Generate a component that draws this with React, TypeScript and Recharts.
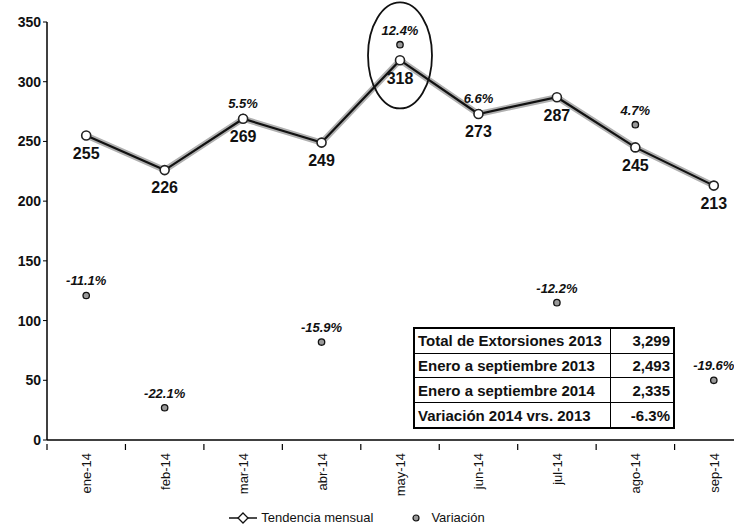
import { ComposedChart, Line, XAxis, YAxis, LabelList, ReferenceDot } from 'recharts';

const months = ['ene-14', 'feb-14', 'mar-14', 'abr-14', 'may-14', 'jun-14', 'jul-14', 'ago-14', 'sep-14'];
const tendencia = [255, 226, 269, 249, 318, 273, 287, 245, 213];
const variacionPos = [121, 27, 270, 82, 331, 274, 115, 264, 50];
const variacionLabel = ['-11.1%', '-22.1%', '5.5%', '-15.9%', '12.4%', '6.6%', '-12.2%', '4.7%', '-19.6%'];
const yTicks = [0, 50, 100, 150, 200, 250, 300, 350];

const tableRows = [
  ['Total de Extorsiones 2013', '3,299'],
  ['Enero a septiembre 2013', '2,493'],
  ['Enero a septiembre 2014', '2,335'],
  ['Variación 2014 vrs. 2013', '-6.3%'],
];

const data = months.map((m, i) => ({
  mes: m,
  tendencia: tendencia[i],
  variacion: variacionPos[i],
  varLabel: variacionLabel[i],
}));

const FONT = '"Liberation Sans Narrow", "Liberation Sans", Arial, sans-serif';
const HALF_BAND = 39.2;

function MonthTick(props: any) {
  const { x, y, payload } = props;
  const axisY = y - 4;
  return (
    <g>
      <line x1={x - HALF_BAND} y1={axisY} x2={x - HALF_BAND} y2={axisY + 6} stroke="#000" strokeWidth={1.2} />
      <text
        x={0}
        y={0}
        transform={`translate(${x + 5},${axisY + 9}) rotate(-90)`}
        textAnchor="end"
        fontSize={13}
        fontFamily={FONT}
        fill="#111"
      >
        {payload.value}
      </text>
    </g>
  );
}

function VarDot(props: any) {
  const { cx, cy } = props;
  if (cx == null || cy == null) return null;
  return <circle cx={cx} cy={cy} r={3.2} fill="#9a9a9a" stroke="#111" strokeWidth={1.3} />;
}

function TrendDot(props: any) {
  const { cx, cy } = props;
  if (cx == null || cy == null) return null;
  return <circle cx={cx} cy={cy} r={4.5} fill="#fff" stroke="#222" strokeWidth={1.6} />;
}

function Ellipse(props: any) {
  const { cx, cy } = props;
  return <ellipse cx={cx} cy={cy} rx={32} ry={53} fill="none" stroke="#111" strokeWidth={1.8} />;
}

export default function App() {
  return (
    <div style={{ position: 'fixed', left: 0, top: 0, width: 734, height: 529, overflow: 'hidden', background: '#fff' }}>
      <ComposedChart width={760} height={529} data={data} margin={{ top: 22, right: 7, left: 0, bottom: 0 }}>
        <XAxis
          dataKey="mes"
          interval={0}
          height={89}
          padding={{ left: HALF_BAND, right: HALF_BAND }}
          tickLine={false}
          axisLine={{ stroke: '#000', strokeWidth: 1.3 }}
          tick={<MonthTick />}
        />
        <YAxis
          width={47}
          domain={[0, 350]}
          ticks={yTicks}
          tickSize={4}
          axisLine={{ stroke: '#000', strokeWidth: 1.5 }}
          tickLine={{ stroke: '#000' }}
          tick={{ fontSize: 14, fontWeight: 700, fill: '#111', fontFamily: FONT }}
        />
        <ReferenceDot x="may-14" y={322} shape={<Ellipse />} ifOverflow="visible" />
        {/* variación first so the trend markers sit on top where they overlap */}
        <Line
          dataKey="variacion"
          stroke="none"
          dot={<VarDot />}
          activeDot={false}
          isAnimationActive={false}
        >
          <LabelList
            dataKey="varLabel"
            position="top"
            offset={10}
            fontSize={13}
            fontWeight={700}
            fontStyle="italic"
            fill="#111"
            fontFamily={FONT}
          />
        </Line>
        <Line
          dataKey="tendencia"
          stroke="#b0b0b0"
          strokeWidth={6}
          dot={false}
          activeDot={false}
          isAnimationActive={false}
          legendType="none"
        />
        <Line
          dataKey="tendencia"
          stroke="#111"
          strokeWidth={2.2}
          dot={<TrendDot />}
          activeDot={false}
          isAnimationActive={false}
        >
          <LabelList
            dataKey="tendencia"
            position="bottom"
            offset={12}
            fontSize={16}
            fontWeight={700}
            fill="#111"
            fontFamily={FONT}
          />
        </Line>
      </ComposedChart>

      <table
        style={{
          position: 'absolute',
          left: 413,
          top: 327,
          width: 262,
          height: 102,
          borderCollapse: 'collapse',
          border: '2px solid #000',
          background: '#fff',
          fontFamily: FONT,
          fontWeight: 700,
          fontSize: 15,
          color: '#111',
        }}
      >
        <tbody>
          {tableRows.map((r) => (
            <tr key={r[0]}>
              <td style={{ border: '1px solid #000', padding: '0 3px', width: 189, whiteSpace: 'nowrap' }}>{r[0]}</td>
              <td style={{ border: '1px solid #000', padding: '0 3px', textAlign: 'right' }}>{r[1]}</td>
            </tr>
          ))}
        </tbody>
      </table>

      <div
        style={{
          position: 'absolute',
          left: 10,
          top: 510,
          width: 734,
          display: 'flex',
          justifyContent: 'center',
          alignItems: 'center',
          fontFamily: FONT,
          fontSize: 13,
          color: '#111',
        }}
      >
        <div style={{ display: 'flex', alignItems: 'center', marginLeft: -40 }}>
          <svg width={28} height={14}>
            <line x1={0} y1={7} x2={28} y2={7} stroke="#111" strokeWidth={1.5} />
            <path d="M14 2 L19 7 L14 12 L9 7 Z" fill="#fff" stroke="#111" strokeWidth={1.3} />
          </svg>
          <span style={{ marginLeft: 4 }}>Tendencia mensual</span>
        </div>
        <div style={{ display: 'flex', alignItems: 'center', marginLeft: 38 }}>
          <svg width={10} height={10}>
            <circle cx={5} cy={5} r={3} fill="#9a9a9a" stroke="#111" strokeWidth={1.2} />
          </svg>
          <span style={{ marginLeft: 10 }}>Variación</span>
        </div>
      </div>
    </div>
  );
}
